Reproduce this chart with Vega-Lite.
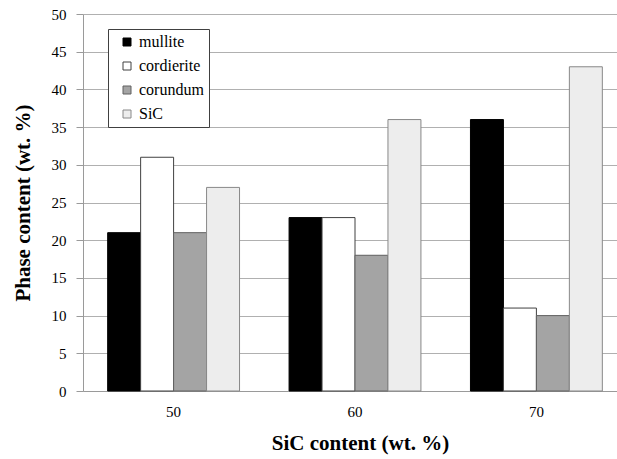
{
  "$schema": "https://vega.github.io/schema/vega-lite/v6.json",
  "autosize": "none",
  "padding": {"left": 83, "top": 14, "right": 0, "bottom": 68},
  "width": 534,
  "height": 377,
  "background": "white",
  "data": {
    "values": [
      {"sic": "50", "phase": "mullite", "content": 21},
      {"sic": "50", "phase": "cordierite", "content": 31},
      {"sic": "50", "phase": "corundum", "content": 21},
      {"sic": "50", "phase": "SiC", "content": 27},
      {"sic": "60", "phase": "mullite", "content": 23},
      {"sic": "60", "phase": "cordierite", "content": 23},
      {"sic": "60", "phase": "corundum", "content": 18},
      {"sic": "60", "phase": "SiC", "content": 36},
      {"sic": "70", "phase": "mullite", "content": 36},
      {"sic": "70", "phase": "cordierite", "content": 11},
      {"sic": "70", "phase": "corundum", "content": 10},
      {"sic": "70", "phase": "SiC", "content": 43}
    ]
  },
  "mark": {"type": "bar", "strokeWidth": 1},
  "encoding": {
    "x": {
      "field": "sic",
      "type": "nominal",
      "title": "SiC content (wt. %)",
      "scale": {"range": [0, 544], "paddingInner": 0.273, "paddingOuter": 0.136},
      "axis": {
        "labelAngle": 0,
        "ticks": false,
        "tickSize": 0,
        "labelPadding": 13,
        "titlePadding": 13,
        "titleX": 277
      }
    },
    "xOffset": {
      "field": "phase",
      "type": "nominal",
      "sort": ["mullite", "cordierite", "corundum", "SiC"],
      "scale": {"paddingInner": 0, "paddingOuter": 0}
    },
    "y": {
      "field": "content",
      "type": "quantitative",
      "title": "Phase content (wt. %)",
      "scale": {"domain": [0, 50], "nice": false},
      "axis": {
        "values": [0, 5, 10, 15, 20, 25, 30, 35, 40, 45, 50],
        "tickSize": 7,
        "labelPadding": 10,
        "titlePadding": 18
      }
    },
    "color": {
      "field": "phase",
      "type": "nominal",
      "title": null,
      "sort": ["mullite", "cordierite", "corundum", "SiC"],
      "scale": {
        "domain": ["mullite", "cordierite", "corundum", "SiC"],
        "range": ["#000000", "#ffffff", "#a4a4a4", "#ededed"]
      },
      "legend": {
        "orient": "none",
        "legendX": 25,
        "legendY": 15,
        "symbolType": "square",
        "symbolSize": 64,
        "symbolStrokeWidth": 1,
        "symbolOffset": 6,
        "labelOffset": 4,
        "rowPadding": 8,
        "padding": 5,
        "strokeColor": "#404040",
        "fillColor": "white"
      }
    },
    "stroke": {
      "field": "phase",
      "type": "nominal",
      "legend": null,
      "scale": {
        "domain": ["mullite", "cordierite", "corundum", "SiC"],
        "range": ["#000000", "#404040", "#606060", "#888888"]
      }
    }
  },
  "config": {
    "font": "Liberation Serif",
    "view": {"stroke": null},
    "axis": {
      "labelFont": "Liberation Serif",
      "labelFontSize": 15,
      "labelColor": "black",
      "titleFont": "Liberation Serif",
      "titleFontSize": 21,
      "titleFontWeight": "bold",
      "titleColor": "black",
      "domainColor": "#9a9a9a",
      "tickColor": "#9a9a9a",
      "gridColor": "#b0b0b0",
      "grid": false
    },
    "axisY": {"grid": true},
    "legend": {
      "labelFont": "Liberation Serif",
      "labelFontSize": 16,
      "labelColor": "black"
    }
  }
}
